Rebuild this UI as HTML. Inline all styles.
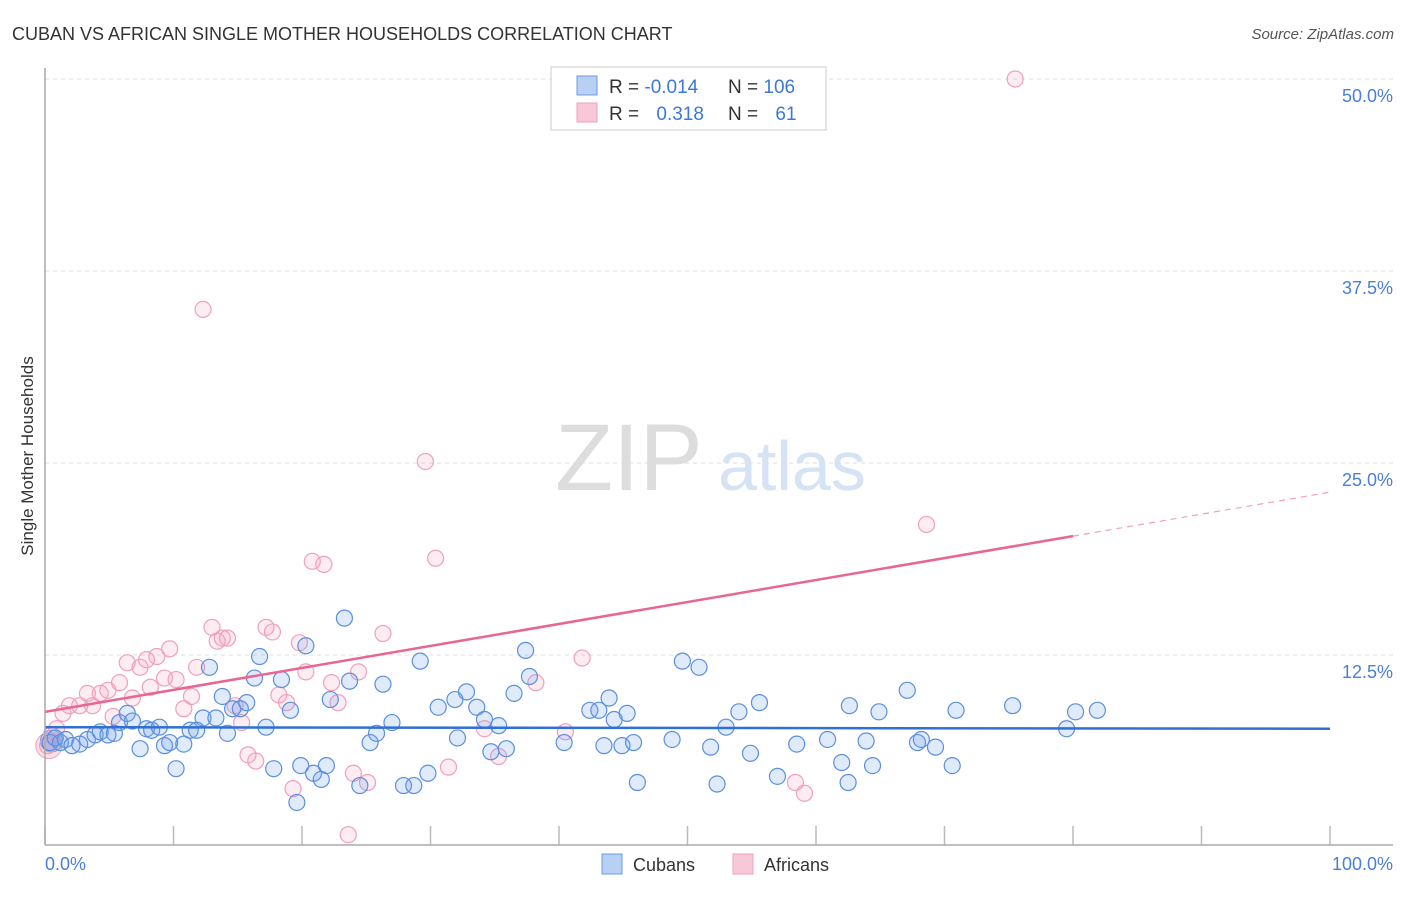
<!DOCTYPE html>
<html><head><meta charset="utf-8"><style>
body{margin:0;background:#fff;font-family:"Liberation Sans",sans-serif}
svg text{font-family:"Liberation Sans",sans-serif}
</style></head><body>
<svg id="c" width="1406" height="892" xmlns="http://www.w3.org/2000/svg">
<text x="12" y="40" font-size="18" fill="#333">CUBAN VS AFRICAN SINGLE MOTHER HOUSEHOLDS CORRELATION CHART</text>
<text x="1394" y="39" font-size="15" fill="#555" font-style="italic" text-anchor="end">Source: ZipAtlas.com</text>
<text x="33" y="456" font-size="17" fill="#333" text-anchor="middle" transform="rotate(-90 33 456)">Single Mother Households</text>
<text x="555" y="490" font-size="95" fill="#ddd" font-family="Liberation Serif">ZIP</text>
<text x="718" y="490" font-size="70" fill="#d5e3f5">atlas</text>
<g id="grid"></g><g id="pts"></g><g id="lines"></g>
<line x1="45" y1="68" x2="45" y2="845" stroke="#aaa" stroke-width="1.5"/>
<line x1="45" y1="845" x2="1393" y2="845" stroke="#aaa" stroke-width="1.5"/>
<text x="45" y="870" font-size="18" fill="#4a7fd8">0.0%</text>
<text x="1393" y="870" font-size="18" fill="#4a7fd8" text-anchor="end">100.0%</text>
<g>
<rect x="551" y="67" width="275" height="63" fill="#fff" stroke="#ccc"/>
<rect x="577" y="76" width="20" height="19" fill="#b8d0f3" stroke="#6a9be0"/>
<rect x="577" y="103" width="20" height="19" fill="#f9c8d8" stroke="#f0a0bb"/>
<text x="609" y="93" font-size="19" fill="#333">R = <tspan fill="#3c78d8">-0.014</tspan></text>
<text x="728" y="93" font-size="19" fill="#333">N = <tspan fill="#3c78d8">106</tspan></text>
<text x="609" y="120" font-size="19" fill="#333">R = <tspan fill="#3c78d8" dx="12">0.318</tspan></text>
<text x="728" y="120" font-size="19" fill="#333">N = <tspan fill="#3c78d8" dx="12">61</tspan></text>
</g>
<g>
<rect x="602" y="854" width="20" height="20" fill="#b8d0f3" stroke="#6a9be0"/>
<text x="633" y="871" font-size="18" fill="#333">Cubans</text>
<rect x="733" y="854" width="20" height="20" fill="#f9c8d8" stroke="#f0a0bb"/>
<text x="764" y="871" font-size="18" fill="#333">Africans</text>
</g>
</svg>
<script>
const yTicks=[12.5,25,37.5,50];
const xTicks=[0,10,20,30,40,50,60,70,80,90,100];
const cubanX=[0.4,0.8,1.2,1.6,2.1,2.7,3.3,3.9,4.3,4.9,5.4,5.8,6.4,6.8,7.4,7.9,8.3,8.9,9.3,9.7,10.2,10.8,11.3,11.8,12.3,12.8,13.3,13.8,14.2,14.6,15.2,15.7,16.3,16.7,17.2,17.8,18.4,19.1,19.6,19.9,20.3,20.9,21.5,21.9,22.2,23.3,23.7,24.5,25.3,25.8,26.3,27.0,27.9,28.7,29.2,29.8,30.6,32.1,31.9,32.8,33.6,34.2,34.7,35.3,35.9,36.5,37.4,37.7,40.4,42.4,43.1,43.5,43.9,44.3,44.9,45.3,45.8,46.1,48.8,49.6,50.9,51.8,52.3,53.0,54.0,54.9,55.6,57.0,58.5,60.9,62.0,62.5,62.6,63.9,64.4,64.9,67.1,67.9,68.2,69.3,70.6,70.9,75.3,79.5,80.2,81.9];
const cubanY=[6.8,7.1,6.8,7.0,6.6,6.7,7.0,7.3,7.5,7.3,7.4,8.1,8.7,8.2,6.4,7.7,7.6,7.8,6.6,6.8,5.1,6.7,7.6,7.6,8.4,11.7,8.4,9.8,7.4,9.0,9.0,9.4,11.0,12.4,7.8,5.1,10.9,8.9,2.9,5.3,13.1,4.8,4.4,5.3,9.6,14.9,10.8,4.0,6.8,7.4,10.6,8.1,4.0,4.0,12.1,4.8,9.1,7.1,9.6,10.1,9.1,8.3,6.2,7.9,6.4,10.0,12.8,11.1,6.8,8.9,8.9,6.6,9.7,8.3,6.6,8.7,6.8,4.2,7.0,12.1,11.7,6.5,4.1,7.8,8.8,6.1,9.4,4.6,6.7,7.0,5.5,4.2,9.2,6.9,5.3,8.8,10.2,6.8,7.0,6.5,5.3,8.9,9.2,7.7,8.8,8.9];
const africanX=[0.2,0.5,0.9,1.4,1.9,2.7,3.3,3.7,4.3,4.9,5.3,5.8,6.4,6.8,7.4,7.9,8.2,8.7,9.3,9.7,10.2,10.8,11.4,11.8,12.3,13.0,13.4,13.8,14.2,14.8,15.3,15.8,16.4,17.2,17.7,18.2,18.8,19.3,19.8,20.3,20.8,21.7,22.3,22.8,24.0,24.4,25.1,26.3,29.6,30.4,31.4,34.2,35.3,38.2,40.5,41.8,58.4,59.1,68.6,75.5,23.6];
const africanY=[6.6,7.3,7.7,8.7,9.2,9.2,10.0,9.2,10.0,10.2,8.5,10.7,12.0,9.7,11.7,12.2,10.4,12.4,11.0,12.9,10.9,9.0,9.8,11.7,35.0,14.3,13.4,13.6,13.6,9.2,8.1,6.0,5.6,14.3,14.0,9.9,9.4,3.8,13.3,11.4,18.6,18.4,10.7,9.4,4.8,11.4,4.2,13.9,25.1,18.8,5.2,7.7,5.9,10.7,7.5,12.3,4.2,3.5,21.0,50.0,0.8];
const cubanTrend=[7.8,7.7];
const africanTrend=[8.8,23.1];
const africanSolidEnd=80;
const NS="http://www.w3.org/2000/svg";
const X=v=>45+v*12.85, Y=v=>847-v*15.36;
function mk(t,a,p){const e=document.createElementNS(NS,t);for(const k in a)e.setAttribute(k,a[k]);p.appendChild(e);return e;}
const grid=document.getElementById('grid'),pts=document.getElementById('pts'),lines=document.getElementById('lines'),svg=document.getElementById('c');
yTicks.forEach(t=>{
 const l=mk('line',{x1:45,x2:1393,y1:Y(t),y2:Y(t),stroke:'#ddd','stroke-dasharray':'4,4'},grid);
 
 
 const tx=mk('text',{x:1393,y:Y(t)+23,'font-size':18,fill:'#4a7fd8','text-anchor':'end'},svg);
 tx.textContent=t.toFixed(1)+'%';
 
 
});
xTicks.forEach(t=>{
 const l=mk('line',{x1:X(t),x2:X(t),y1:826,y2:845,stroke:'#bbb','stroke-width':1.5},grid);
 
 
});
mk('circle',{cx:X(0.3),cy:Y(6.6),r:13,fill:'rgba(240,150,180,0.3)',stroke:'#f0a0bb'},pts);
mk('circle',{cx:X(0.5),cy:Y(6.9),r:11,fill:'rgba(100,150,230,0.35)',stroke:'#6a9be0'},pts);
africanX.forEach((x,i)=>{
 const c=mk('circle',{cx:X(x),cy:Y(africanY[i]),r:8,fill:'rgba(245,160,190,0.2)',stroke:'#f0a0bb','stroke-width':1.2},pts);
 
 
});
cubanX.forEach((x,i)=>{
 const c=mk('circle',{cx:X(x),cy:Y(cubanY[i]),r:8,fill:'rgba(110,160,235,0.22)',stroke:'#5b8fdd','stroke-width':1.2},pts);
 
 
});
const cl=mk('line',{x1:X(0),y1:Y(cubanTrend[0]),x2:X(100),y2:Y(cubanTrend[1]),stroke:'#2f6fd6','stroke-width':2.5},lines);


const aAt=x=>africanTrend[0]+(africanTrend[1]-africanTrend[0])*x/100;
const al=mk('line',{x1:X(0),y1:Y(aAt(0)),x2:X(africanSolidEnd),y2:Y(aAt(africanSolidEnd)),stroke:'#e8668f','stroke-width':2.5},lines);


const ad=mk('line',{x1:X(africanSolidEnd),y1:Y(aAt(africanSolidEnd)),x2:X(100),y2:Y(aAt(100)),stroke:'#f0a0bb','stroke-width':1.2,'stroke-dasharray':'6,5'},lines);


</script>
</body></html>
